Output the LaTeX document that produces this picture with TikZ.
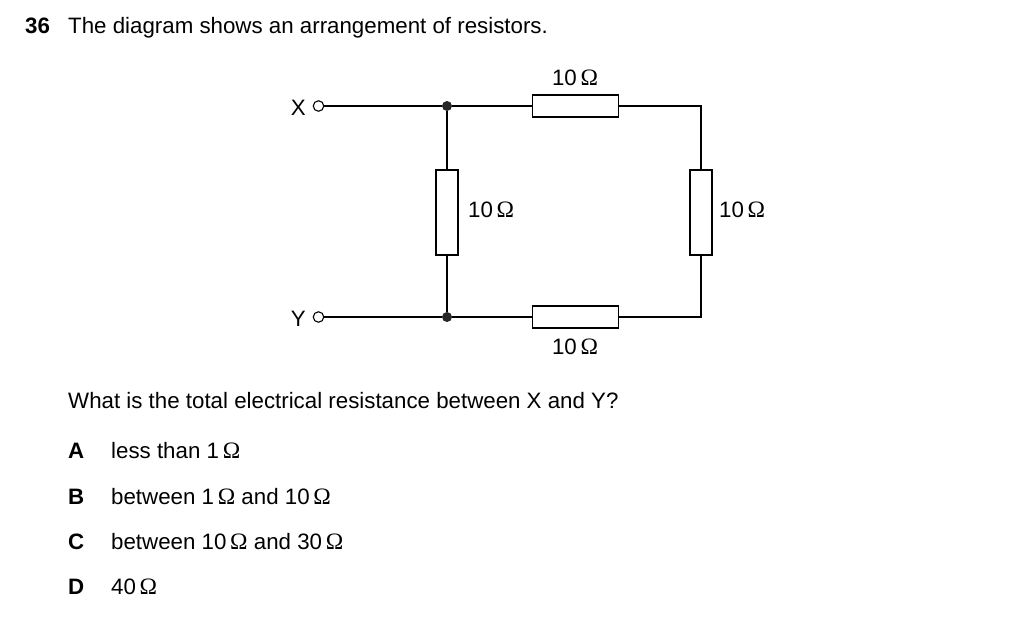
\documentclass[tikz,border=0pt]{standalone}
\usepackage{fontspec}
\setmainfont{Liberation Sans}
\newfontfamily\omegafont{Liberation Serif}
\newcommand{\ohm}{\,{\omegafont\fontsize{23.5}{24}\selectfont Ω}}
\tikzset{
  resh/.style={draw, fill=white, line width=1.4pt, minimum width=86pt, minimum height=22pt, inner sep=0pt},
  resv/.style={draw, fill=white, line width=1.4pt, minimum width=22pt, minimum height=85pt, inner sep=0pt},
  wire/.style={line width=1.4pt},
  terminal/.style={circle, draw, line width=1.1pt, minimum size=10.5pt, inner sep=0pt},
  junction/.style={circle, fill=black!85, minimum size=10pt, inner sep=0pt},
  txt/.style={anchor=base west, inner sep=0pt, font=\fontsize{22.3}{24}\selectfont},
  lab/.style={anchor=base, inner sep=0pt, font=\fontsize{22.3}{24}\selectfont}
}
\begin{document}
\begin{tikzpicture}[x=1pt, y=-1pt]
  \useasboundingbox (0,0) rectangle (1024,618);

  % --- Pregunta ---
  \node[txt, font=\fontsize{22.3}{24}\selectfont\bfseries] (num) at (25,33.5) {36};
  \node[txt] (question) at (68,33.5) {The diagram shows an arrangement of resistors.};

  % --- Circuito ---
  \node[terminal] (termX) at (318.5,106) {};
  \node[terminal] (termY) at (318.5,317) {};
  \node[junction] (juncX) at (447,106) {};
  \node[junction] (juncY) at (447,317) {};
  \coordinate (cornerX) at (701,106);
  \coordinate (cornerY) at (701,317);
  \node[resh] (rtop) at (575.5,106) {};
  \node[resh] (rbot) at (575.5,317) {};
  \node[resv] (rleft) at (447,212.5) {};
  \node[resv] (rright) at (701,212.5) {};

  \draw[wire] (termX) -- (juncX) -- (rtop) -- (cornerX) -- (rright) -- (cornerY) -- (rbot) -- (juncY) -- (termY);
  \draw[wire] (juncX) -- (rleft) -- (juncY);

  % --- Etiquetas ---
  \node[lab, anchor=base east] (labX) at (306,115) {X};
  \node[lab, anchor=base east] (labY) at (306,326) {Y};
  \node[lab] (ltop) at (575,85) {10\ohm};
  \node[lab] (lbot) at (575,354) {10\ohm};
  \node[txt] (lleft) at (468,217) {10\ohm};
  \node[txt] (lright) at (719,217) {10\ohm};

  % --- Opciones ---
  \node[txt] (ask) at (68,408) {What is the total electrical resistance between X and Y?};
  \foreach \name/\ypos/\txt in {A/458/less than 1\ohm, B/504/between 1\ohm{} and 10\ohm, C/549/between 10\ohm{} and 30\ohm, D/594/40\ohm}{
    \node[txt, font=\fontsize{22.3}{24}\selectfont\bfseries] (key\name) at (68,\ypos) {\name};
    \node[txt] (opt\name) at (111,\ypos) {\txt};
  }
\end{tikzpicture}
\end{document}
